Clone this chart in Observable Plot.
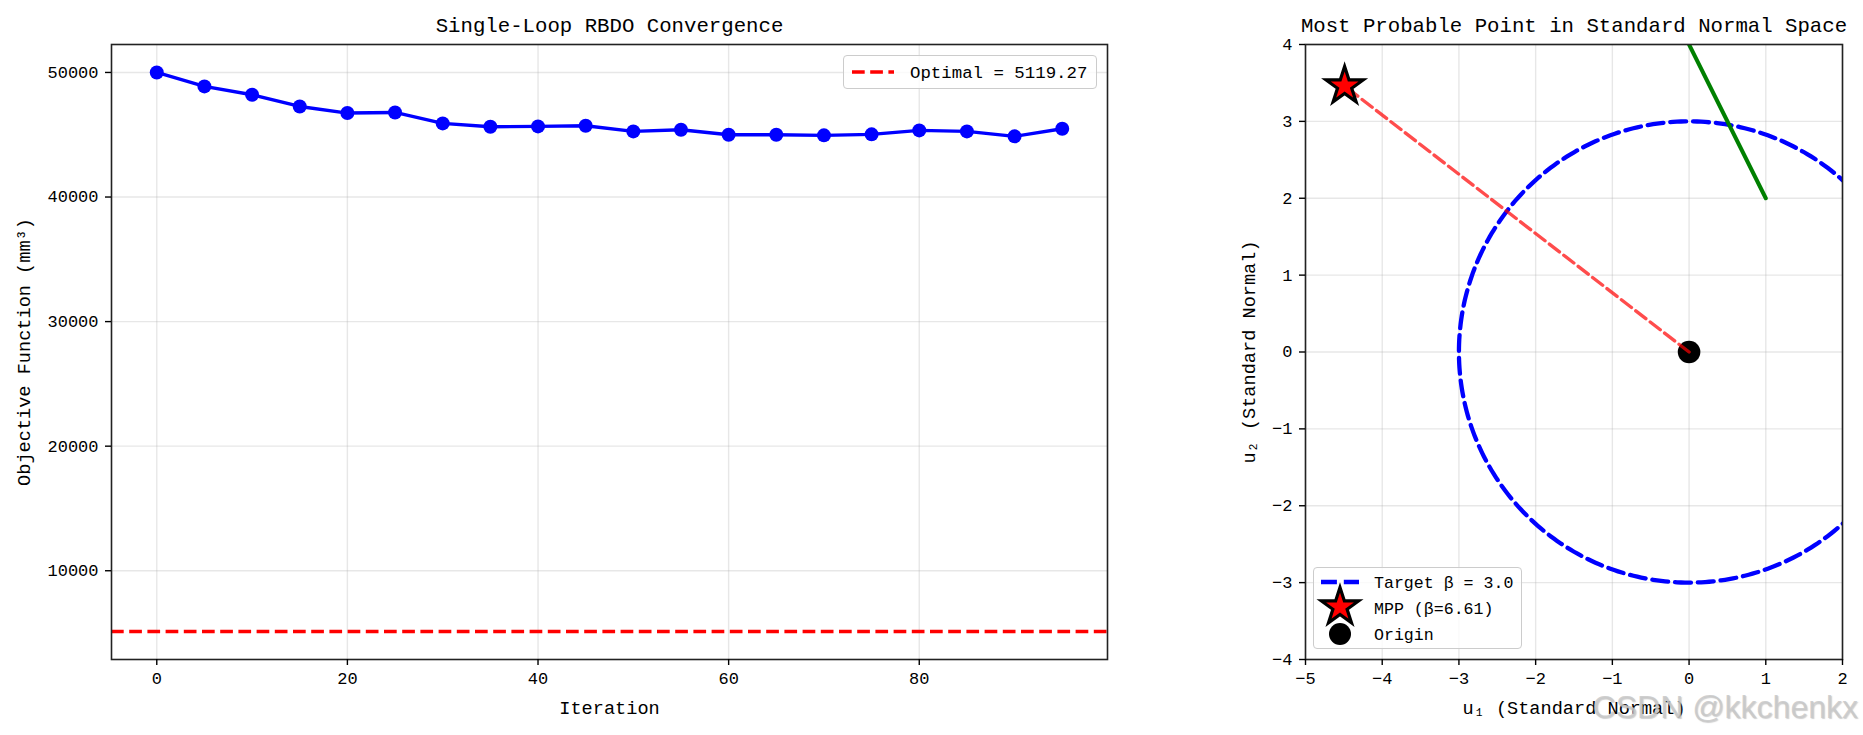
<!DOCTYPE html>
<html>
<head>
<meta charset="utf-8">
<script src="https://cdn.jsdelivr.net/npm/d3@7"></script>
<script src="https://cdn.jsdelivr.net/npm/@observablehq/plot@0.6"></script>
<style>
  html, body { margin: 0; padding: 0; background: #fff; }
  #root { position: relative; width: 1863px; height: 735px; overflow: hidden; background: #fff; }
  #root > svg, #root > .abs { position: absolute; }
  .legend { position: absolute; background: rgba(255,255,255,0.8); border: 1.4px solid #cccccc; border-radius: 4px; box-sizing: border-box; }
  .legend svg { position: absolute; left: 0; top: 0; overflow: visible; }
</style>
</head>
<body>
<div id="root"></div>
<script>
// ---------- data ----------
const iterations = [0, 5, 10, 15, 20, 25, 30, 35, 40, 45, 50, 55, 60, 65, 70, 75, 80, 85, 90, 95];
const objective = [50000, 48880, 48210, 47270, 46740, 46790, 45910, 45640, 45670, 45720,
                   45270, 45400, 45000, 45000, 44950, 45030, 45350, 45270, 44870, 45480];
const optimalValue = 5119.27;

const xTicksLeft = [0, 20, 40, 60, 80];
const yTicksLeft = [10000, 20000, 30000, 40000, 50000];
const xTicksRight = [-5, -4, -3, -2, -1, 0, 1, 2];
const yTicksRight = [-4, -3, -2, -1, 0, 1, 2, 3, 4];

const targetBeta = 3.0;
const mppU1 = [-4.49];
const mppU2 = [3.46];
const mppBeta = 6.61;
const originU1 = [0];
const originU2 = [0];
const limitU1 = [0, 1];
const limitU2 = [4, 2];

// ---------- derived tables ----------
const convergence = iterations.map((it, i) => ({it, obj: objective[i]}));
const mpp = mppU1.map((u1, i) => ({u1, u2: mppU2[i]}));
const origin = originU1.map((u1, i) => ({u1, u2: originU2[i]}));
const limitState = limitU1.map((u1, i) => ({u1, u2: limitU2[i]}));
const mppRay = [origin[0], mpp[0]];
const betaCircle = d3.range(0, 361, 1).map(deg => {
  const t = deg * Math.PI / 180;
  return {u1: targetBeta * Math.cos(t), u2: targetBeta * Math.sin(t)};
});

const FONT = '"Liberation Mono", "DejaVu Sans Mono", monospace';
const GRID = {stroke: "#b0b0b0", strokeOpacity: 0.3, strokeWidth: 1.4};
const fmt = d3.format("d");
const root = document.getElementById("root");

// ---------- left panel ----------
const left = Plot.plot({
  width: 1120, height: 735,
  marginLeft: 111, marginRight: 13, marginTop: 44, marginBottom: 76,
  style: {fontFamily: FONT, fontSize: "17px", color: "black", background: "transparent", overflow: "visible"},
  x: {domain: [-4.75, 99.75]},
  y: {domain: [2875, 52244]},
  marks: [
    Plot.gridX(xTicksLeft, GRID),
    Plot.gridY(yTicksLeft, GRID),
    Plot.ruleY([optimalValue], {stroke: "red", strokeWidth: 3.4, strokeDasharray: "12.7,5.5"}),
    Plot.line(convergence, {x: "it", y: "obj", stroke: "blue", strokeWidth: 3.4}),
    Plot.dot(convergence, {x: "it", y: "obj", fill: "blue", r: 7}),
    Plot.frame({stroke: "#222", strokeWidth: 1.6}),
    Plot.axisX(xTicksLeft, {label: null, tickSize: 6, tickPadding: 6, tickFormat: fmt, fontSize: 17, strokeWidth: 1.4}),
    Plot.axisY(yTicksLeft, {label: null, tickSize: 6, tickPadding: 7, tickFormat: fmt, fontSize: 17, strokeWidth: 1.4}),
    Plot.text(["Single-Loop RBDO Convergence"], {text: d => d, frameAnchor: "top", dy: -19, fontSize: 20.7, lineAnchor: "middle", textAnchor: "middle"}),
    Plot.text(["Iteration"], {text: d => d, frameAnchor: "bottom", dy: 49, fontSize: 18.6, lineAnchor: "middle", textAnchor: "middle"}),
    Plot.text(["Objective Function (mm³)"], {text: d => d, frameAnchor: "left", dx: -87, rotate: -90, fontSize: 18.6, lineAnchor: "middle", textAnchor: "middle"})
  ]
});
left.style.left = "0px"; left.style.top = "0px";
root.appendChild(left);

// ---------- right panel ----------
const right = Plot.plot({
  width: 743, height: 735,
  marginLeft: 185, marginRight: 21, marginTop: 44, marginBottom: 76,
  style: {fontFamily: FONT, fontSize: "17px", color: "black", background: "transparent", overflow: "visible"},
  x: {domain: [-5, 2]},
  y: {domain: [-4, 4]},
  marks: [
    Plot.gridX(xTicksRight, GRID),
    Plot.gridY(yTicksRight, GRID),
    Plot.line(betaCircle, {x: "u1", y: "u2", stroke: "blue", strokeWidth: 4.3, strokeDasharray: "15.9,6.9", clip: true}),
    Plot.line(limitState, {x: "u1", y: "u2", stroke: "green", strokeWidth: 4, clip: true}),
    Plot.dot(origin, {x: "u1", y: "u2", fill: "black", r: 11.3}),
    Plot.line(mppRay, {x: "u1", y: "u2", stroke: "red", strokeOpacity: 0.7, strokeWidth: 3.4, strokeDasharray: "12.7,5.5"}),
    Plot.dot(mpp, {x: "u1", y: "u2", symbol: "star", r: 11.7, fill: "red", stroke: "black", strokeWidth: 3.2}),
    Plot.frame({stroke: "#222", strokeWidth: 1.6}),
    Plot.axisX(xTicksRight, {label: null, tickSize: 6, tickPadding: 6, tickFormat: fmt, fontSize: 17, strokeWidth: 1.4}),
    Plot.axisY(yTicksRight, {label: null, tickSize: 6, tickPadding: 7, tickFormat: fmt, fontSize: 17, strokeWidth: 1.4}),
    Plot.text(["Most Probable Point in Standard Normal Space"], {text: d => d, frameAnchor: "top", dy: -19, fontSize: 20.7, lineAnchor: "middle", textAnchor: "middle"}),
    Plot.text(["u₁ (Standard Normal)"], {text: d => d, frameAnchor: "bottom", dy: 49, fontSize: 18.6, lineAnchor: "middle", textAnchor: "middle"}),
    Plot.text(["u₂ (Standard Normal)"], {text: d => d, frameAnchor: "left", dx: -56, rotate: -90, fontSize: 18.6, lineAnchor: "middle", textAnchor: "middle"})
  ]
});
right.style.left = "1120px"; right.style.top = "0px";
root.appendChild(right);

// ---------- legends ----------
function makeLegend(left, top, w, h) {
  const div = document.createElement("div");
  div.className = "legend";
  Object.assign(div.style, {left: left + "px", top: top + "px", width: w + "px", height: h + "px"});
  root.appendChild(div);
  const svg = d3.select(div).append("svg").attr("width", w).attr("height", h)
    .style("left", "-1.4px").style("top", "-1.4px");
  return svg;
}
const starPath = d3.symbol(d3.symbolStar, 11.7 * 11.7 * Math.PI)();

const lg1 = makeLegend(843, 55, 254, 34);
lg1.append("line").attr("x1", 9).attr("x2", 51).attr("y1", 17).attr("y2", 17)
  .attr("stroke", "red").attr("stroke-width", 3.4).attr("stroke-dasharray", "12.7,5.5");
lg1.append("text").attr("x", 67).attr("y", 17).attr("dy", "0.35em")
  .attr("font-family", FONT).attr("font-size", 17.4).text(`Optimal = ${optimalValue}`);

const lg2 = makeLegend(1313, 567, 209, 82);
lg2.append("line").attr("x1", 8).attr("x2", 46).attr("y1", 15).attr("y2", 15)
  .attr("stroke", "blue").attr("stroke-width", 4.3).attr("stroke-dasharray", "15.9,6.9");
lg2.append("circle").attr("cx", 27).attr("cy", 67).attr("r", 11).attr("fill", "black");
lg2.append("path").attr("d", starPath).attr("transform", "translate(27,40)")
  .attr("fill", "red").attr("stroke", "black").attr("stroke-width", 3.2);
const rows = [`Target β = ${targetBeta.toFixed(1)}`, `MPP (β=${mppBeta})`, "Origin"];
rows.forEach((t, i) => {
  lg2.append("text").attr("x", 61).attr("y", [15, 41, 67][i]).attr("dy", "0.35em")
    .attr("font-family", FONT).attr("font-size", 16.6).text(t);
});

// ---------- watermark ----------
const wm = document.createElement("div");
wm.className = "abs";
wm.textContent = "CSDN @kkchenkx";
Object.assign(wm.style, {right: "5px", top: "691px", fontFamily: '"Liberation Sans", Arial, sans-serif', fontSize: "32px",
  color: "rgba(200,200,200,0.85)", textShadow: "1px 1px 1px rgba(120,120,120,0.35)", whiteSpace: "nowrap", lineHeight: "1"});
root.appendChild(wm);
</script>
</body>
</html>
